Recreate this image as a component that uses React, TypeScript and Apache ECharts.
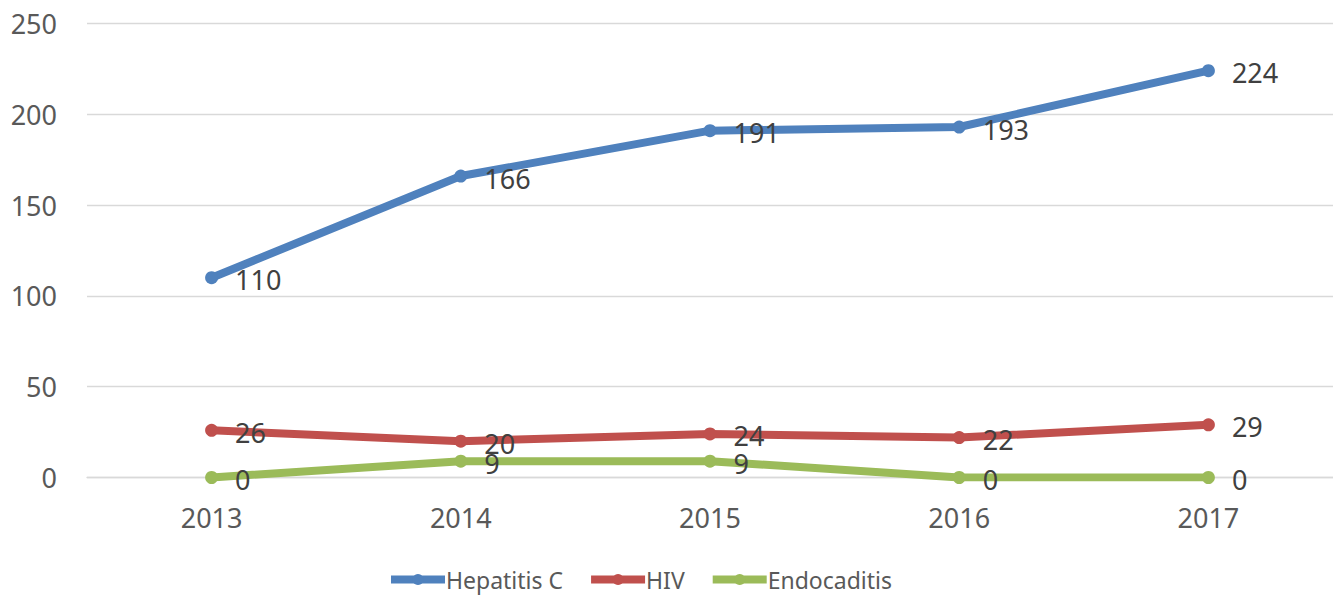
import React, { useEffect, useRef } from "react";
import * as echarts from "echarts";

const years = ["2013", "2014", "2015", "2016", "2017"];
const hepatitisC = [110, 166, 191, 193, 224];
const hiv = [26, 20, 24, 22, 29];
const endocaditis = [0, 9, 9, 0, 0];

const FONT = "Noto Sans";

export default function App() {
  const ref = useRef<HTMLDivElement>(null);
  useEffect(() => {
    if (!ref.current) return;
    const chart = echarts.init(ref.current, undefined, { renderer: "svg" });
    const mk = (name: string, data: number[], color: string) => ({
      name,
      type: "line",
      data,
      color,
      symbol: "circle",
      symbolSize: 13,
      lineStyle: { width: 8, color },
      itemStyle: { color },
      label: {
        show: true,
        position: "right",
        distance: 17,
        offset: [0, 2],
        color: "#404040",
        fontFamily: FONT,
        fontSize: 27,
      },
    });
    chart.setOption({
      animation: false,
      backgroundColor: "#ffffff",
      grid: { left: 87, top: 23.5, width: 1251, height: 454, containLabel: false },
      xAxis: {
        type: "category",
        data: years,
        boundaryGap: true,
        axisLine: { show: true, lineStyle: { color: "#d9d9d9", width: 1.3 } },
        axisTick: { show: false },
        axisLabel: { color: "#595959", fontFamily: FONT, fontSize: 27, margin: 26 },
      },
      yAxis: {
        type: "value",
        min: 0,
        max: 250,
        interval: 50,
        axisLine: { show: false },
        axisTick: { show: false },
        splitLine: { lineStyle: { color: "#d9d9d9", width: 1.3 } },
        axisLabel: { color: "#595959", fontFamily: FONT, fontSize: 27, margin: 30 },
      },
      legend: {
        left: 382,
        top: 563,
        itemWidth: 54,
        itemHeight: 14,
        itemGap: 24,
        lineStyle: { width: 8 },
        itemStyle: { borderWidth: 0 },
        textStyle: { color: "#595959", fontFamily: FONT, fontSize: 23, padding: [0, 0, 0, -4] },
        data: ["Hepatitis C", "HIV", "Endocaditis"],
      },
      series: [
        mk("Hepatitis C", hepatitisC, "#4F81BD"),
        mk("HIV", hiv, "#C0504D"),
        mk("Endocaditis", endocaditis, "#9BBB59"),
      ],
    });
    return () => chart.dispose();
  }, []);
  return (
    <div
      ref={ref}
      style={{ position: "absolute", left: 0, top: 0, width: 1333, height: 597, background: "#fff" }}
    />
  );
}
